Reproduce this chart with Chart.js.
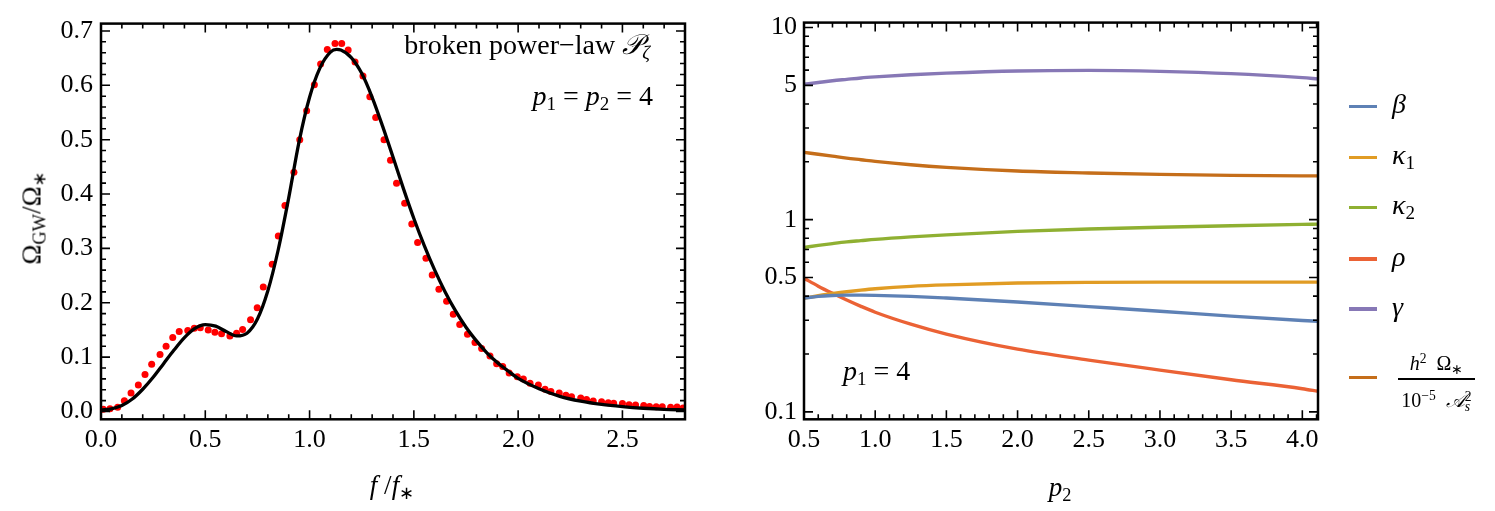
<!DOCTYPE html>
<html>
<head>
<meta charset="utf-8">
<script src="https://cdn.jsdelivr.net/npm/chart.js@4.4.1/dist/chart.umd.min.js"></script>
<style>
  body { margin: 0; background: #fff; width: 1495px; height: 511px; position: relative; overflow: hidden; font-family: "Liberation Serif", serif; }
  canvas { position: absolute; top: 0; }
  #left { left: 0; }
  #right { left: 740px; }
  .lbl { position: absolute; white-space: nowrap; font-size: 27px; line-height: 1; color: #000; }
  .it { font-style: italic; }
  .lbl sub { font-size: 68%; vertical-align: -0.28em; line-height: 0; font-style: normal; }
  .lbl sup { font-size: 68%; vertical-align: 0.5em; line-height: 0; font-style: normal; }
  .rot { transform: translate(-50%, -50%) rotate(-90deg); }
  .mid { transform: translate(-50%, -50%); }
  .key { position: absolute; left: 1349px; width: 28px; height: 3.4px; }
</style>
</head>
<body>
<canvas id="left" width="740" height="511"></canvas>
<canvas id="right" width="755" height="511"></canvas>

<div class="lbl" style="right:845px;top:31px;font-size:28px">broken power−law <span class="it">𝒫</span><sub class="it" style="font-style:italic">ζ</sub></div>
<div class="lbl" style="right:842px;top:82px;font-size:28px"><span class="it">p</span><sub>1</sub> = <span class="it">p</span><sub>2</sub> = 4</div>
<div class="lbl rot" style="left:32px;top:218px">Ω<sub>GW</sub>/Ω<sub>∗</sub></div>
<div class="lbl mid" style="left:392px;top:485px"><span class="it">f</span> /<span class="it">f</span><sub>∗</sub></div>

<div class="lbl" style="left:843px;top:357px;font-size:28px"><span class="it">p</span><sub>1</sub> = 4</div>
<div class="lbl mid" style="left:1060px;top:487px"><span class="it">p</span><sub>2</sub></div>
<div id="legend"></div>

<script>
// left panel: numerical points and fitted curve
const freqPoints = [0.011, 0.043, 0.080, 0.112, 0.144, 0.179, 0.211, 0.243, 0.283, 0.312, 0.344, 0.375, 0.416, 0.447, 0.476, 0.514, 0.546, 0.578, 0.618, 0.650, 0.679, 0.717, 0.749, 0.778, 0.821, 0.850, 0.882, 0.925, 0.953,
  0.986, 1.023, 1.053, 1.085, 1.122, 1.154, 1.185, 1.218, 1.256, 1.289, 1.317, 1.357, 1.388, 1.417, 1.456, 1.490, 1.518, 1.558, 1.588, 1.620, 1.657, 1.689, 1.720, 1.757, 1.793, 1.825, 1.865, 1.897,
  1.926, 1.957, 1.996, 2.025, 2.057, 2.097, 2.129, 2.157, 2.197, 2.229, 2.256, 2.300, 2.328, 2.360, 2.400, 2.432, 2.458, 2.500, 2.532, 2.563, 2.602, 2.630, 2.662, 2.691, 2.731, 2.762, 2.791];
const omegaPoints = [0.004, 0.005, 0.008, 0.020, 0.034, 0.049, 0.068, 0.087, 0.105, 0.120, 0.136, 0.147, 0.149, 0.153, 0.154, 0.150, 0.146, 0.143, 0.139, 0.144, 0.151, 0.169, 0.191, 0.229, 0.271, 0.323, 0.379, 0.440, 0.500,
  0.553, 0.601, 0.639, 0.666, 0.677, 0.677, 0.665, 0.643, 0.617, 0.579, 0.541, 0.500, 0.462, 0.420, 0.383, 0.345, 0.311, 0.282, 0.251, 0.225, 0.203, 0.179, 0.160, 0.142, 0.127, 0.116, 0.102, 0.088,
  0.083, 0.071, 0.064, 0.060, 0.052, 0.049, 0.041, 0.037, 0.034, 0.030, 0.027, 0.025, 0.022, 0.0195, 0.018, 0.016, 0.0154, 0.0148, 0.0124, 0.0118, 0.0112, 0.0094, 0.0089, 0.0089, 0.0077, 0.0083, 0.0065];

const freqCurve = [0.00, 0.05, 0.10, 0.15, 0.20, 0.25, 0.30, 0.35, 0.40, 0.45, 0.50, 0.55, 0.60, 0.65, 0.70, 0.75, 0.80, 0.85, 0.90, 0.95, 1.00, 1.05, 1.10, 1.13, 1.15, 1.20, 1.25, 1.30, 1.35, 1.40,
  1.45, 1.50, 1.55, 1.60, 1.65, 1.70, 1.75, 1.80, 1.85, 1.90, 1.95, 2.00, 2.10, 2.20, 2.30, 2.40, 2.50, 2.60, 2.70, 2.80];
const omegaCurve = [0.003, 0.005, 0.011, 0.023, 0.041, 0.063, 0.088, 0.113, 0.136, 0.153, 0.160, 0.157, 0.147, 0.139, 0.144, 0.170, 0.222, 0.298, 0.393, 0.497, 0.578, 0.632, 0.661, 0.666, 0.665, 0.651, 0.622, 0.578, 0.525, 0.468,
  0.410, 0.355, 0.305, 0.260, 0.220, 0.185, 0.155, 0.130, 0.108, 0.090, 0.075, 0.061, 0.042, 0.028, 0.019, 0.013, 0.009, 0.006, 0.004, 0.003];

const freqTicks = [0, 0.5, 1.0, 1.5, 2.0, 2.5];
const omegaTicks = [0, 0.1, 0.2, 0.3, 0.4, 0.5, 0.6, 0.7];

// right panel: fit parameters against p2
const p2Values   = [0.5, 0.6, 0.7, 0.8, 0.9, 1.0, 1.25, 1.5, 2.0, 2.5, 3.0, 3.5, 4.0, 4.11];
const betaVals   = [0.391, 0.399, 0.403, 0.405, 0.405, 0.404, 0.399, 0.391, 0.373, 0.353, 0.334, 0.315, 0.299, 0.296];
const kappa1Vals = [0.390, 0.402, 0.413, 0.422, 0.430, 0.437, 0.450, 0.458, 0.468, 0.472, 0.473, 0.473, 0.473, 0.473];
const kappa2Vals = [0.717, 0.735, 0.751, 0.766, 0.778, 0.790, 0.814, 0.834, 0.869, 0.894, 0.913, 0.930, 0.945, 0.948];
const rhoVals    = [0.496, 0.451, 0.414, 0.382, 0.354, 0.330, 0.286, 0.254, 0.212, 0.186, 0.165, 0.147, 0.132, 0.128];
const gammaVals  = [5.06, 5.17, 5.28, 5.37, 5.46, 5.53, 5.68, 5.79, 5.94, 5.98, 5.91, 5.75, 5.48, 5.40];
const ampVals    = [2.24, 2.19, 2.14, 2.09, 2.05, 2.01, 1.93, 1.87, 1.79, 1.75, 1.72, 1.70, 1.69, 1.69];

const p2Ticks = [0.5, 1.0, 1.5, 2.0, 2.5, 3.0, 3.5, 4.0];
const paramTicks = [0.1, 0.5, 1, 5, 10];

const seriesLabels = ['<span class="it">β</span>', '<span class="it">κ</span><sub>1</sub>', '<span class="it">κ</span><sub>2</sub>',
  '<span class="it">ρ</span>', '<span class="it">γ</span>'];
const seriesColors = ['#5E81B5', '#E19C24', '#8FB032', '#EB6235', '#8778B6', '#C56E1A'];

const tickFont = { family: 'Liberation Serif', size: 26 };

function steps(a, b, d) {
  const out = [];
  for (let v = a; v <= b + 1e-9; v += d) out.push(Math.round(v * 1000) / 1000);
  return out;
}

// frame with inward ticks on all four sides, Mathematica style
const frameTicks = {
  id: 'frameTicks',
  afterDatasetsDraw(chart, args, o) {
    const { ctx, chartArea: a } = chart;
    const xs = chart.scales.x, ys = chart.scales.y;
    ctx.save();
    ctx.strokeStyle = '#000';
    ctx.lineWidth = 1.6;
    ctx.beginPath();
    const xt = (vals, len) => vals.forEach(v => {
      const p = xs.getPixelForValue(v);
      ctx.moveTo(p, a.bottom); ctx.lineTo(p, a.bottom - len);
      ctx.moveTo(p, a.top); ctx.lineTo(p, a.top + len);
    });
    const yt = (vals, len) => vals.forEach(v => {
      const p = ys.getPixelForValue(v);
      ctx.moveTo(a.left, p); ctx.lineTo(a.left + len, p);
      ctx.moveTo(a.right, p); ctx.lineTo(a.right - len, p);
    });
    xt(o.xMinor, 5); xt(o.xMajor, 9);
    yt(o.yMinor, 5); yt(o.yMajor, 9);
    ctx.stroke();
    ctx.lineWidth = 2.5;
    ctx.strokeRect(a.left, a.top, a.right - a.left, a.bottom - a.top);
    ctx.restore();
  }
};

function axis(extra) {
  return Object.assign({
    grid: { display: false, drawTicks: false },
    border: { display: false },
  }, extra);
}

new Chart(document.getElementById('left'), {
  type: 'scatter',
  data: {
    datasets: [
      {
        type: 'line',
        data: freqCurve.map((x, i) => ({ x, y: omegaCurve[i] })),
        borderColor: '#000', borderWidth: 3.3, pointRadius: 0,
        cubicInterpolationMode: 'monotone', order: 0
      },
      {
        data: freqPoints.map((x, i) => ({ x, y: omegaPoints[i] })),
        backgroundColor: '#ff0000', borderWidth: 0, pointRadius: 3.5, order: 1
      }
    ]
  },
  options: {
    responsive: false, animation: false, events: [],
    layout: { padding: { left: 0, top: 10.7, right: 55, bottom: 0 } },
    plugins: {
      legend: { display: false }, tooltip: { enabled: false },
      frameTicks: { xMajor: freqTicks, xMinor: steps(0, 2.8, 0.1), yMajor: omegaTicks, yMinor: steps(0, 0.7, 0.02) }
    },
    scales: {
      x: axis({
        type: 'linear', min: 0, max: 2.8,
        afterBuildTicks: s => { s.ticks = freqTicks.map(v => ({ value: v })); },
        afterFit: s => { s.height = 91.7; },
        ticks: { font: tickFont, color: '#000', padding: 5, maxRotation: 0, autoSkip: false, callback: v => v.toFixed(1) }
      }),
      y: axis({
        min: -0.0143, max: 0.7135,
        afterBuildTicks: s => { s.ticks = omegaTicks.map(v => ({ value: v })); },
        afterFit: s => { s.width = 101; },
        ticks: { font: tickFont, color: '#000', padding: 8, autoSkip: false, callback: v => v.toFixed(1) }
      })
    }
  },
  plugins: [frameTicks]
});

const paramSeries = [betaVals, kappa1Vals, kappa2Vals, rhoVals, gammaVals, ampVals];
const logMinor = [];
[0.1, 1].forEach(d => { for (let k = 1; k <= 9; k++) logMinor.push(Math.round(d * k * 100) / 100); });
logMinor.push(10);

new Chart(document.getElementById('right'), {
  type: 'line',
  data: {
    datasets: paramSeries.map((vals, i) => ({
      data: p2Values.map((x, j) => ({ x, y: vals[j] })),
      borderColor: seriesColors[i], borderWidth: 3.4, pointRadius: 0,
      cubicInterpolationMode: 'monotone'
    }))
  },
  options: {
    responsive: false, animation: false, events: [],
    layout: { padding: { left: 0, top: 10.7, right: 177, bottom: 0 } },
    plugins: {
      legend: { display: false }, tooltip: { enabled: false },
      frameTicks: { xMajor: p2Ticks, xMinor: steps(0.5, 4.1, 0.1), yMajor: paramTicks, yMinor: logMinor }
    },
    scales: {
      x: axis({
        type: 'linear', min: 0.5, max: 4.11,
        afterBuildTicks: s => { s.ticks = p2Ticks.map(v => ({ value: v })); },
        afterFit: s => { s.height = 91.7; },
        ticks: { font: tickFont, color: '#000', padding: 5, maxRotation: 0, autoSkip: false, callback: v => v.toFixed(1) }
      }),
      y: axis({
        type: 'logarithmic', min: 0.0915, max: 10.6,
        afterBuildTicks: s => { s.ticks = paramTicks.map(v => ({ value: v })); },
        afterFit: s => { s.width = 64; },
        ticks: { font: tickFont, color: '#000', padding: 7, autoSkip: false, callback: v => String(v) }
      })
    }
  },
  plugins: [frameTicks]
});

// legend drawn as html so the math labels keep their sub/superscripts
const keyY = [106.7, 157.7, 207.7, 259, 309, 377.7];
let html = '';
keyY.forEach((y, i) => {
  html += `<div class="key" style="top:${y - 1.7}px;background:${seriesColors[i]}"></div>`;
  if (i < seriesLabels.length) html += `<div class="lbl" style="left:1392px;top:${y - 16.4}px;font-size:28px">${seriesLabels[i]}</div>`;
});
html += `<div class="lbl" style="left:1398px;width:77px;text-align:center;top:353px;font-size:20px"><span class="it">h</span><sup>2</sup>&nbsp;&nbsp;Ω<sub>∗</sub></div>`;
html += `<div style="position:absolute;left:1398px;width:77px;top:378.3px;height:1.4px;background:#000"></div>`;
html += `<div class="lbl" style="left:1398px;width:77px;text-align:center;top:390px;font-size:20px">10<sup>−5</sup>&nbsp;&nbsp;<span class="it">𝒜</span><span style="display:inline-block;vertical-align:-0.3em;line-height:0.75;font-size:68%;text-align:left"><span>2</span><br><span class="it">s</span></span></div>`;
document.getElementById('legend').innerHTML = html;
</script>
</body>
</html>
